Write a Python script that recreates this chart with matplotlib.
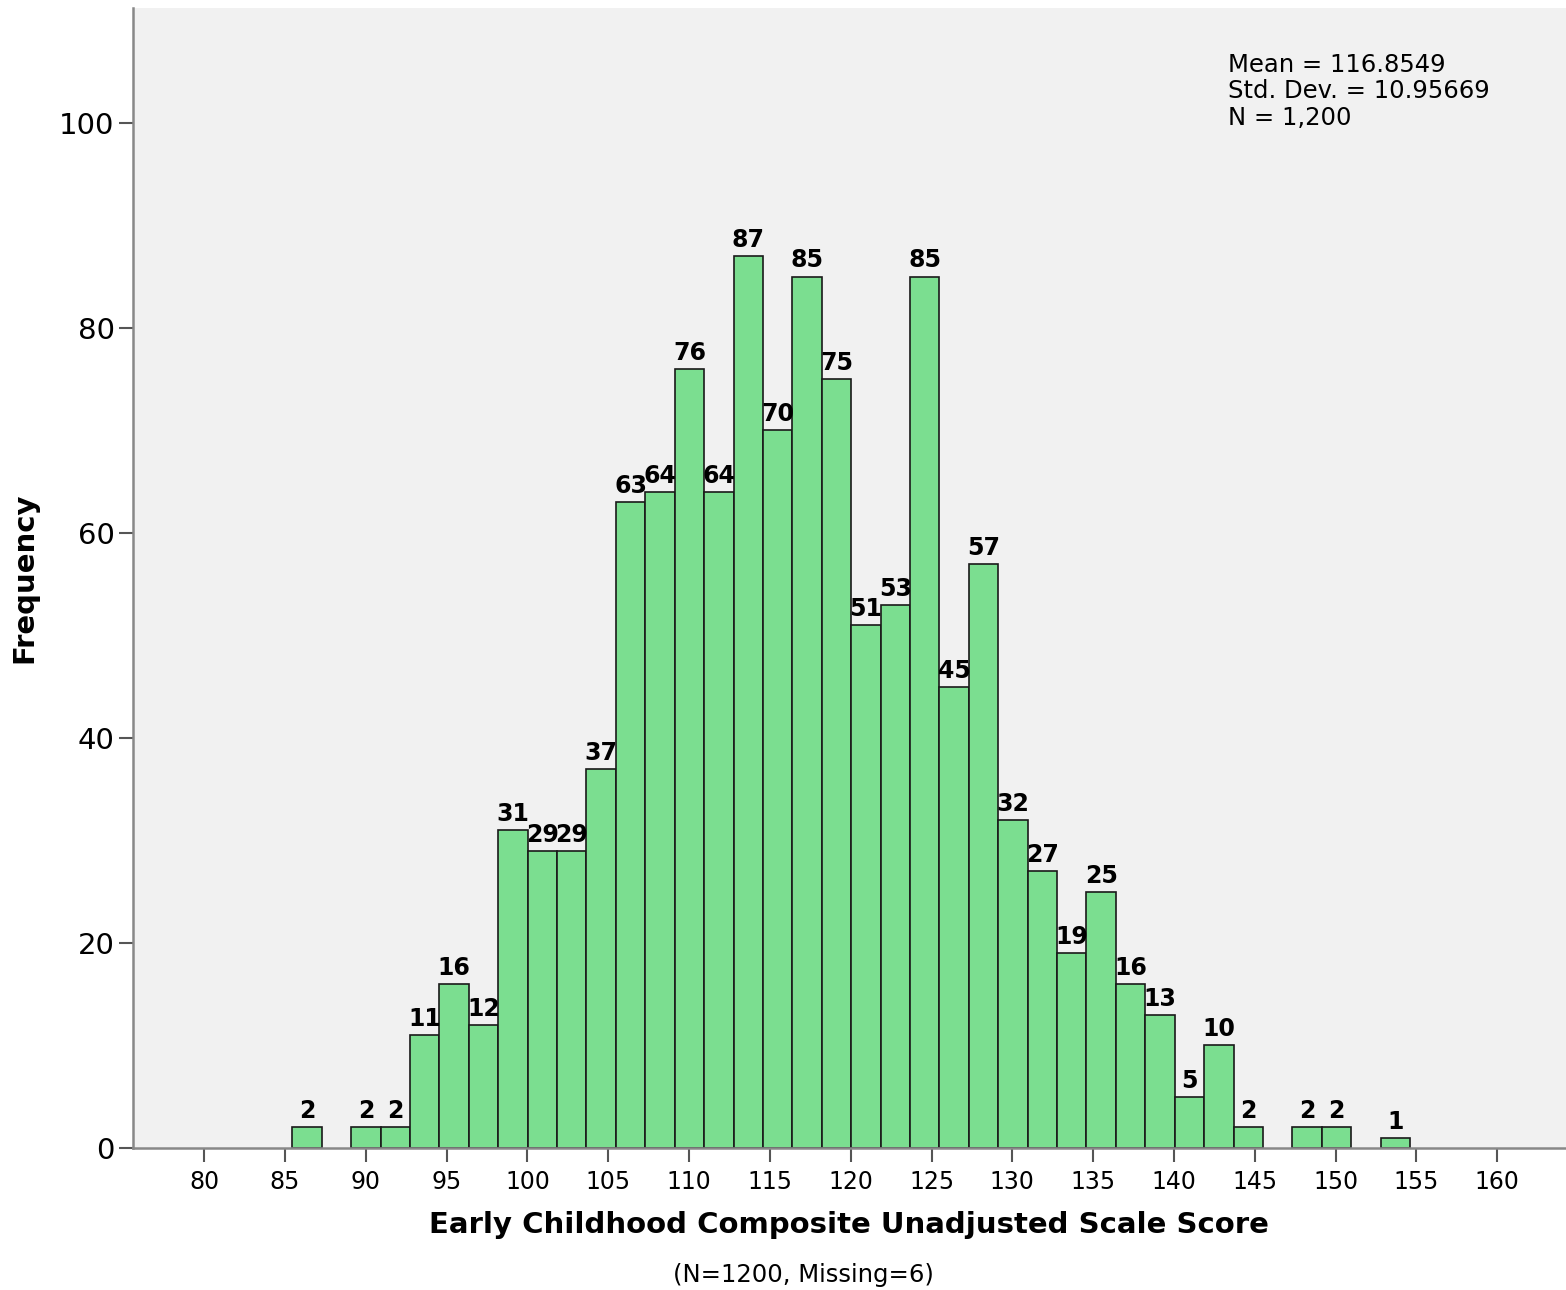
import numpy as np
import matplotlib
matplotlib.use("Agg")
import matplotlib.pyplot as plt

# histogram data
bin_start = 85.45
bin_width = 1.82
counts = [2, 0, 2, 2, 11, 16, 12, 31, 29, 29, 37, 63, 64, 76, 64, 87, 70, 85, 75,
          51, 53, 85, 45, 57, 32, 27, 19, 25, 16, 13, 5, 10, 2, 0, 2, 2, 0, 1]
x_ticks = list(range(80, 161, 5))
y_ticks = [0, 20, 40, 60, 80, 100]
stats_lines = ["Mean = 116.8549", "Std. Dev. = 10.95669", "N = 1,200"]
x_label = "Early Childhood Composite Unadjusted Scale Score"
footnote = "(N=1200, Missing=6)"

plt.rcParams['font.family'] = ['DejaVu Sans']

fig = plt.figure(figsize=(15.66, 12.9), dpi=100)
ax = fig.add_axes([0.0847, 0.1101, 0.9153, 0.8837])
ax.set_facecolor("#f1f1f1")

lefts = bin_start + bin_width * np.arange(len(counts))
counts = np.array(counts)
mask = counts > 0
ax.bar(lefts[mask], counts[mask], width=bin_width, align='edge',
       color="#7bde90", edgecolor="#1a1a1a", linewidth=1.2, zorder=2)

for xl, c in zip(lefts[mask], counts[mask]):
    ax.text(xl + bin_width / 2, c + 0.4, str(c), ha='center', va='bottom',
            fontsize=17, fontweight='bold', color='black', zorder=3)

ax.set_xlim(75.57, 164.26)
ax.set_ylim(0, 111.2)
ax.set_xticks(x_ticks)
ax.set_yticks(y_ticks)
ax.tick_params(axis='x', labelsize=17, length=10, width=1.5, color='#555555', pad=6)
ax.tick_params(axis='y', labelsize=21, length=10, width=1.5, color='#555555', pad=3)

for s in ['top', 'right']:
    ax.spines[s].set_visible(False)
for s in ['left', 'bottom']:
    ax.spines[s].set_color('#888888')
    ax.spines[s].set_linewidth(1.8)

ax.set_xlabel(x_label, fontsize=21, fontweight='bold', labelpad=12)
ax.set_ylabel("Frequency", fontsize=21, fontweight='bold')
ax.yaxis.set_label_coords(-0.0655, 0.5)

ax.text(0.7643, 0.9605, "\n".join(stats_lines), transform=ax.transAxes,
        ha='left', va='top', fontsize=17.5, linespacing=1.12)

fig.text(803 / 1566, 1 - 1275 / 1290, footnote, ha='center', va='center', fontsize=17.5)

fig.savefig("out.png", dpi=100)
